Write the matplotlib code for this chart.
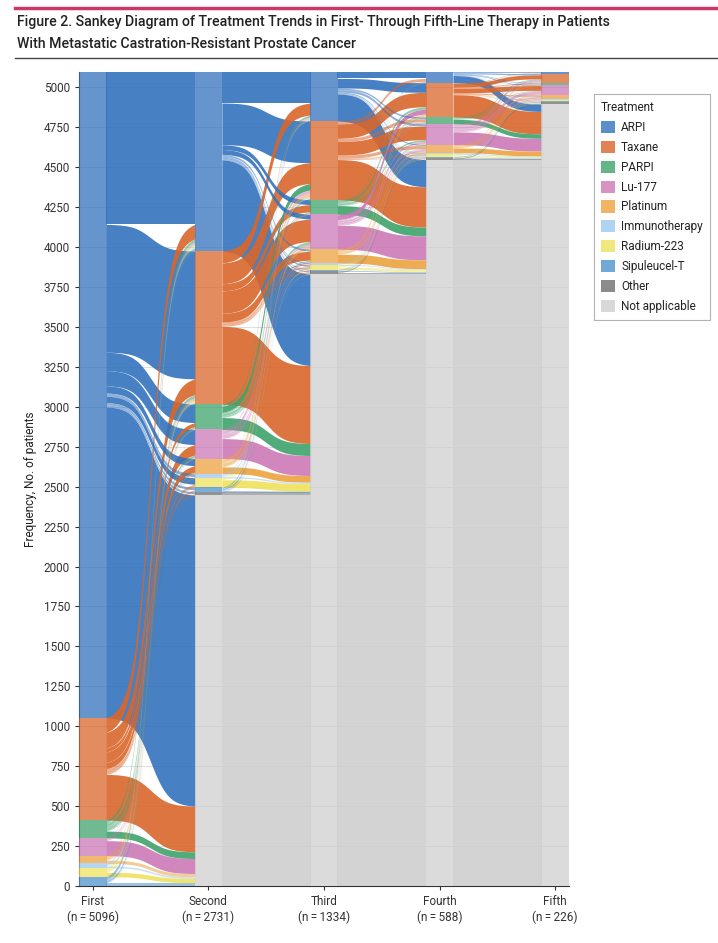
import numpy as np
import matplotlib
matplotlib.use("Agg")
import matplotlib.pyplot as plt
from matplotlib.patches import Patch
from matplotlib.lines import Line2D

# -----------------------------
# Data
# -----------------------------
treatments = ["ARPI", "Taxane", "PARPI", "Lu-177", "Platinum", "Immunotherapy",
              "Radium-223", "Sipuleucel-T", "Other", "Not applicable"]
colors = ["#3372bd", "#d9662b", "#3fa36c", "#cc7ab7", "#eba23f", "#9cc9ee",
          "#efe25c", "#4d92cc", "#6e6e6e", "#cfcfcf"]

lines = ["First", "Second", "Third", "Fourth", "Fifth"]
line_n = [5096, 2731, 1334, 588, 226]

# patients moving from line k (rows) to line k+1 (columns), same order as treatments
first_to_second = [
    [954, 800, 115, 95, 45, 20, 40, 15, 12, 1947],
    [91, 98, 25, 65, 40, 4, 15, 10, 6, 286],
    [20, 20, 8, 12, 4, 1, 2, 1, 1, 42],
    [4, 5, 2, 3, 2, 0, 1, 1, 0, 94],
    [8, 10, 4, 3, 2, 0, 0, 0, 1, 20],
    [8, 4, 1, 1, 1, 1, 1, 0, 0, 10],
    [14, 10, 2, 2, 0, 1, 1, 0, 0, 27],
    [22, 12, 1, 1, 0, 0, 0, 1, 0, 21],
    [0, 0, 0, 0, 0, 0, 0, 0, 0, 0],
    [0, 0, 0, 0, 0, 0, 0, 0, 0, 0],
]
second_to_third = [
    [194, 261, 30, 30, 12, 5, 8, 4, 5, 572],
    [75, 130, 45, 140, 55, 5, 10, 5, 6, 488],
    [12, 40, 5, 16, 6, 1, 1, 0, 2, 75],
    [6, 20, 5, 10, 10, 1, 2, 1, 2, 125],
    [5, 19, 4, 20, 2, 1, 0, 0, 1, 42],
    [5, 8, 1, 2, 1, 1, 0, 0, 1, 8],
    [2, 4, 0, 0, 0, 0, 5, 0, 1, 48],
    [7, 9, 1, 1, 0, 0, 1, 1, 0, 8],
    [1, 2, 0, 0, 0, 0, 0, 0, 0, 17],
    [0, 0, 0, 0, 0, 0, 0, 0, 0, 2447],
]
third_to_fourth = [
    [40, 60, 10, 15, 6, 2, 2, 1, 1, 170],
    [18, 90, 20, 85, 20, 2, 3, 2, 1, 252],
    [3, 15, 4, 10, 2, 1, 1, 0, 0, 55],
    [3, 30, 5, 12, 12, 2, 2, 2, 1, 150],
    [1, 12, 2, 6, 8, 1, 1, 0, 0, 55],
    [1, 2, 1, 1, 1, 1, 1, 0, 1, 5],
    [0, 3, 0, 1, 1, 0, 3, 2, 2, 15],
    [1, 2, 0, 1, 0, 0, 1, 1, 0, 5],
    [0, 1, 0, 0, 1, 1, 0, 1, 4, 10],
    [0, 0, 0, 0, 0, 0, 0, 0, 0, 3830],
]
fourth_to_fifth = [
    [4, 8, 3, 4, 1, 0, 0, 1, 1, 45],
    [3, 25, 6, 30, 7, 1, 1, 0, 2, 140],
    [1, 5, 2, 3, 2, 0, 0, 0, 1, 28],
    [1, 12, 2, 20, 10, 1, 2, 1, 2, 80],
    [1, 5, 1, 5, 6, 1, 1, 0, 1, 30],
    [0, 1, 0, 0, 1, 1, 0, 0, 1, 6],
    [0, 1, 0, 1, 0, 0, 2, 1, 1, 8],
    [0, 0, 0, 0, 0, 0, 1, 1, 2, 5],
    [0, 0, 0, 0, 0, 0, 0, 0, 5, 5],
    [0, 0, 0, 0, 0, 0, 0, 0, 0, 4547],
]

FONT = ["Roboto", "DejaVu Sans"]


def stack_tops(c):
    """Top of each stratum, first treatment stacked on top."""
    return c.sum() - (np.cumsum(c) - c)


def main() -> None:
    trans = [np.array(m, dtype=float) for m in
             (first_to_second, second_to_third, third_to_fourth, fourth_to_fifth)]
    counts = [t.sum(axis=1) for t in trans] + [trans[-1].sum(axis=0)]
    total = counts[0].sum()

    fig = plt.figure(figsize=(7.18, 9.43), dpi=100)
    ax = fig.add_axes([79 / 718, 57 / 943, 490 / 718, 814 / 943])

    w = 0.24          # stratum width (axis units)
    pad = 0.004       # flows tuck a hair under the strata (hides AA seams)
    t = np.linspace(0, 1, 120)
    a = 5.0           # steepness of the flow curves
    s = 0.5 + 0.5 * np.tanh(a * (t - 0.5)) / np.tanh(a / 2)

    # flows between neighbouring lines
    for k, T in enumerate(trans):
        xl, xr = k + 1 + w / 2 - pad, k + 2 - w / 2 + pad
        xs = xl + (xr - xl) * t
        top_l = stack_tops(counts[k])
        top_r = stack_tops(counts[k + 1])
        lcum = np.cumsum(T, axis=1) - T
        rcum = np.cumsum(T, axis=0) - T
        flows = []
        for i in range(len(treatments)):
            for j in range(len(treatments)):
                v = T[i, j]
                if v <= 0:
                    continue
                yl = top_l[i] - lcum[i, j]
                yr = top_r[j] - rcum[i, j]
                flows.append((v, i, yl, yr))
        for v, i, yl, yr in sorted(flows, key=lambda f: -f[0]):
            upper = yl + (yr - yl) * s
            alpha = 0.9 if v >= 25 else 0.55
            ax.fill_between(xs, upper - v, upper, color=colors[i], alpha=alpha,
                            lw=0, zorder=2)

    # strata
    for k, c in enumerate(counts):
        tops = stack_tops(c)
        for i, v in enumerate(c):
            if v <= 0:
                continue
            ax.bar(k + 1, v, bottom=tops[i] - v, width=w, color=colors[i],
                   alpha=0.75, lw=0, zorder=3)

    ax.set_xlim(1 - w / 2, 5 + w / 2)
    ax.set_ylim(0, total)
    ax.set_yticks(np.arange(0, 5001, 250))
    ax.set_xticks(np.arange(1, 6))
    ax.set_xticklabels([f"{name}\n(n\u2009=\u2009{n})" for name, n in zip(lines, line_n)],
                       family=FONT, fontsize=8.5, color="#333333", linespacing=1.25)
    for lab in ax.get_yticklabels():
        lab.set_family(FONT)
        lab.set_fontsize(8.5)
        lab.set_color("#333333")
    ax.tick_params(length=3, color="#333333", width=0.8)
    ax.yaxis.grid(True, color="#d8d8d8", lw=0.6)
    ax.set_axisbelow(True)
    for side in ("top", "right"):
        ax.spines[side].set_visible(False)
    for side in ("left", "bottom"):
        ax.spines[side].set_color("#333333")
        ax.spines[side].set_linewidth(0.8)
    ax.set_ylabel("Frequency, No. of patients", family=FONT, fontsize=8.5,
                  color="#222222", labelpad=5)

    # legend
    handles = [Patch(facecolor=c, alpha=0.8, edgecolor="none") for c in colors]
    leg = fig.legend(handles, treatments, title="Treatment", loc="upper left",
                     bbox_to_anchor=(594 / 718, 1 - 94 / 943), borderaxespad=0,
                     frameon=True, fancybox=False, edgecolor="#a0a0a0",
                     title_fontsize=8.5, handlelength=1.2, handleheight=1.2,
                     handletextpad=0.5, labelspacing=0.58, borderpad=0.6,
                     alignment="left", prop={"family": FONT, "size": 8.5})
    leg.get_frame().set_linewidth(0.8)
    leg.get_title().set_family(FONT)
    leg.get_title().set_color("#222222")
    for txt in leg.get_texts():
        txt.set_color("#222222")

    # header
    fig.add_artist(Line2D([15 / 718, 1], [1 - 8 / 943] * 2, color="#c8386b", lw=2.5))
    fig.add_artist(Line2D([15 / 718, 1], [1 - 58 / 943] * 2, color="#444444", lw=1))
    fig.text(17 / 718, 1 - 22 / 943,
             "Figure 2. Sankey Diagram of Treatment Trends in First- Through Fifth-Line Therapy in Patients",
             family=FONT, fontsize=10.2, weight="medium", va="center", color="#222222")
    fig.text(17 / 718, 1 - 44 / 943,
             "With Metastatic Castration-Resistant Prostate Cancer",
             family=FONT, fontsize=10.2, weight="medium", va="center", color="#222222")

    fig.savefig("out.png", dpi=100)
    plt.close(fig)


if __name__ == "__main__":
    main()
